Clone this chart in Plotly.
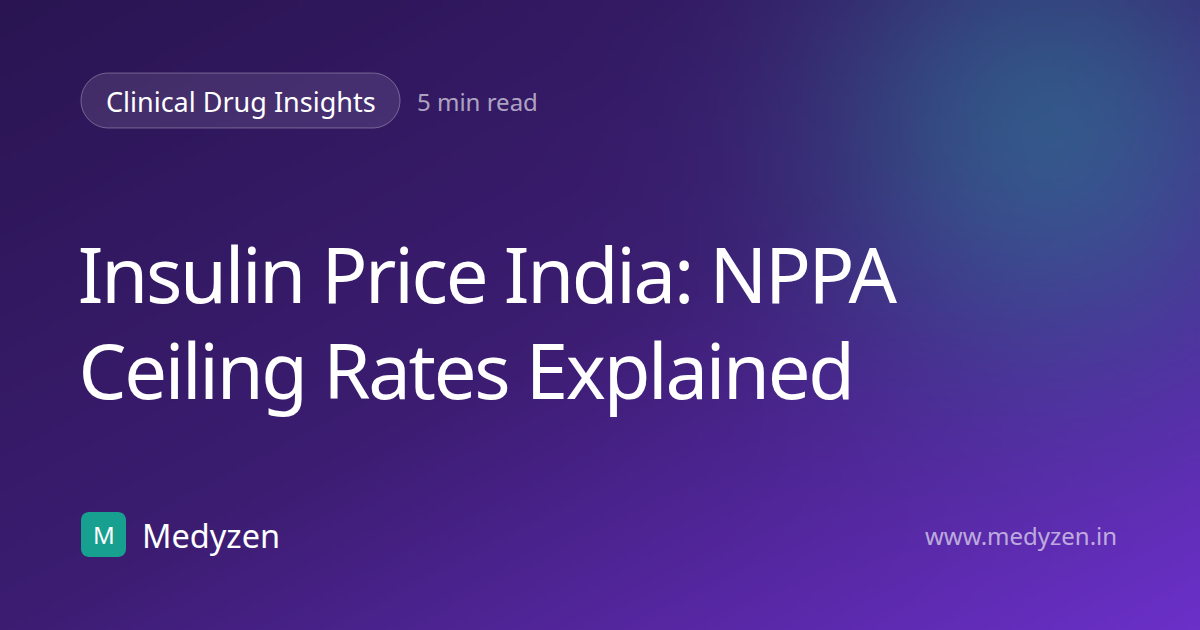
import base64
import json
import struct
import zlib

import numpy as np
import plotly.graph_objects as go

# card texts
tag_label = "Clinical Drug Insights"
read_time = "5 min read"
title_lines = ["Insulin Price India: NPPA", "Ceiling Rates Explained"]
brand_name = "Medyzen"
brand_letter = "M"
site_url = "www.medyzen.in"

W, H = 1200, 630
FONT = "Noto Sans"
TITLE_SIZE = 76
TITLE_LS = -2.3  # px letter spacing on the headline


def png_data_uri(rgb):
    # tiny png writer so we don't need PIL
    h, w, _ = rgb.shape
    raw = b"".join(b"\x00" + rgb[i].tobytes() for i in range(h))

    def chunk(tag, data):
        c = struct.pack(">I", len(data)) + tag + data
        return c + struct.pack(">I", zlib.crc32(tag + data) & 0xFFFFFFFF)

    png = b"\x89PNG\r\n\x1a\n"
    png += chunk(b"IHDR", struct.pack(">IIBBBBB", w, h, 8, 2, 0, 0, 0))
    png += chunk(b"IDAT", zlib.compress(raw, 9))
    png += chunk(b"IEND", b"")
    return "data:image/png;base64," + base64.b64encode(png).decode()


# background: diagonal purple gradient + teal glow top right
gw, gh = 240, 126
xs = (np.arange(gw) + 0.5) * W / gw
ys = (np.arange(gh) + 0.5) * H / gh
X, Y = np.meshgrid(xs, ys)
t = (X / W + Y / H) / 2
stops_t = [0.0, 0.5, 1.0]
stops_c = np.array([[42, 21, 82], [60, 29, 114], [108, 48, 202]], dtype=float)
bg = np.stack([np.interp(t, stops_t, stops_c[:, k]) for k in range(3)], axis=-1)

r = np.hypot(X - 1050, Y - 130)
a = 0.6 * np.exp(-(r / 230) ** 2)
glow = np.array([45, 125, 150], dtype=float)
bg = bg * (1 - a[..., None]) + glow * a[..., None]
bg = np.clip(bg, 0, 255).astype(np.uint8)


def rounded_rect(x0, y0, x1, y1, rad):
    k = 0.5523 * rad
    return (
        f"M {x0 + rad},{y0} L {x1 - rad},{y0} "
        f"C {x1 - rad + k},{y0} {x1},{y0 + rad - k} {x1},{y0 + rad} "
        f"L {x1},{y1 - rad} "
        f"C {x1},{y1 - rad + k} {x1 - rad + k},{y1} {x1 - rad},{y1} "
        f"L {x0 + rad},{y1} "
        f"C {x0 + rad - k},{y1} {x0},{y1 - rad + k} {x0},{y1 - rad} "
        f"L {x0},{y0 + rad} "
        f"C {x0},{y0 + rad - k} {x0 + rad - k},{y0} {x0 + rad},{y0} Z"
    )


fig = go.Figure()

fig.add_layout_image(
    source=png_data_uri(bg), xref="x", yref="y", x=0, y=0,
    sizex=W, sizey=H, sizing="stretch", xanchor="left", yanchor="top",
    layer="below",
)

# pill behind the category tag
fig.add_shape(
    type="path", path=rounded_rect(81, 73, 400, 128, 27.5),
    fillcolor="rgba(255,255,255,0.10)",
    line=dict(color="rgba(255,255,255,0.30)", width=1),
)
# logo square
fig.add_shape(
    type="path", path=rounded_rect(81, 512, 126, 557, 8),
    fillcolor="#17a08f", line=dict(width=0),
)

# letter spacing shrinks the text around its centre, so pull the box left
shift = [len(s) * TITLE_LS / 2 for s in title_lines]

ann = [
    dict(x=240.5, y=101, text=tag_label, xanchor="center",
         font=dict(size=27, color="#ffffff")),
    dict(x=415, y=101, text=read_time, xanchor="left",
         font=dict(size=24, color="rgba(255,255,255,0.62)")),
    dict(x=76 + shift[0], y=273, text=title_lines[0], xanchor="left",
         font=dict(size=TITLE_SIZE, color="#ffffff")),
    dict(x=76 + shift[1], y=369, text=title_lines[1], xanchor="left",
         font=dict(size=TITLE_SIZE, color="#ffffff")),
    dict(x=103.5, y=534.5, text=brand_letter, xanchor="center",
         font=dict(size=24, color="#ffffff")),
    dict(x=140, y=535, text=brand_name, xanchor="left",
         font=dict(size=32.5, color="#ffffff")),
    dict(x=1119, y=535, text=site_url, xanchor="right",
         font=dict(size=24, color="rgba(255,255,255,0.62)")),
]
for a_ in ann:
    fig.add_annotation(xref="x", yref="y", yanchor="middle", showarrow=False, **a_)

fig.update_layout(
    width=W, height=H,
    margin=dict(l=0, r=0, t=0, b=0),
    paper_bgcolor="#2a1552", plot_bgcolor="rgba(0,0,0,0)",
    font=dict(family=FONT),
    xaxis=dict(range=[0, W], visible=False, fixedrange=True),
    yaxis=dict(range=[H, 0], visible=False, fixedrange=True),
    showlegend=False,
)

# page margin off, and tighten the headline letters a bit
post = """
document.body.style.margin = '0';
document.body.style.overflow = 'hidden';
var gd = document.getElementById('{plot_id}');
var heads = %s;
function tighten() {
  gd.querySelectorAll('.annotation-text').forEach(function (el) {
    if (heads.indexOf(el.textContent) >= 0) { el.style.letterSpacing = '%spx'; }
  });
}
tighten();
gd.on('plotly_afterplot', tighten);
""" % (json.dumps(title_lines), TITLE_LS)

fig.write_html("out.html", config=dict(displayModeBar=False), post_script=post)
